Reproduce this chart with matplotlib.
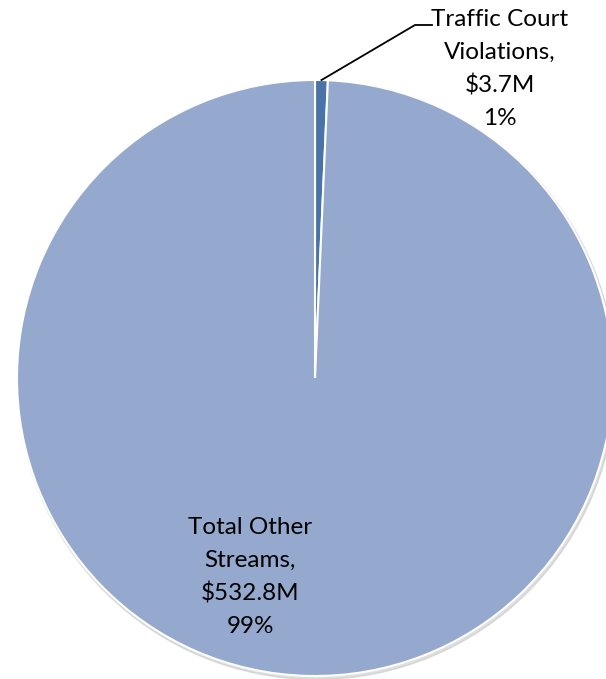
import matplotlib.pyplot as plt
import numpy as np
from matplotlib.patches import Circle

# --------- Dados ---------
categorias = ["Traffic Court\nViolations,", "Total Other\nStreams,"]
valores = [3.7, 532.8]
rotulos_valor = ["$3.7M", "$532.8M"]
percentuais = ["1%", "99%"]
cores = ["#4a74a8", "#95a9cf"]

plt.rcParams['font.family'] = ['Lato', 'DejaVu Sans']

W, H = 606, 679
fig = plt.figure(figsize=(W / 100, H / 100), dpi=100)
ax = fig.add_axes([0, 0, 1, 1])

centro = (315, H - 378)
raio = 298

# sombra suave
ax.add_patch(Circle((centro[0] + 1.5, centro[1] - 2.5), raio + 1, color='#c8c8c8', alpha=0.6, zorder=0))

wedges, _ = ax.pie(valores, colors=cores, startangle=90, counterclock=False,
                   center=centro, radius=raio, frame=True,
                   wedgeprops=dict(edgecolor='white', linewidth=1.5))
ax.set_xlim(0, W)
ax.set_ylim(0, H)
ax.set_aspect('equal')
ax.axis('off')

# rótulo da fatia pequena com linha de chamada
w = wedges[0]
ang = np.deg2rad((w.theta1 + w.theta2) / 2)
px = centro[0] + raio * np.cos(ang)
py = centro[1] + raio * np.sin(ang)
ax.plot([px, 415, 432], [py, H - 25, H - 25], color='black', lw=1.3, zorder=5)

fs = 17.5
txt1 = f"{categorias[0]}\n{rotulos_valor[0]}\n{percentuais[0]}"
ax.text(500, H - 69, txt1, ha='center', va='center', fontsize=fs, linespacing=1.68, zorder=6)

txt2 = f"{categorias[1]}\n{rotulos_valor[1]}\n{percentuais[1]}"
ax.text(250, H - 577, txt2, ha='center', va='center', fontsize=fs, linespacing=1.68, zorder=6)

fig.savefig("out.png", dpi=100)
